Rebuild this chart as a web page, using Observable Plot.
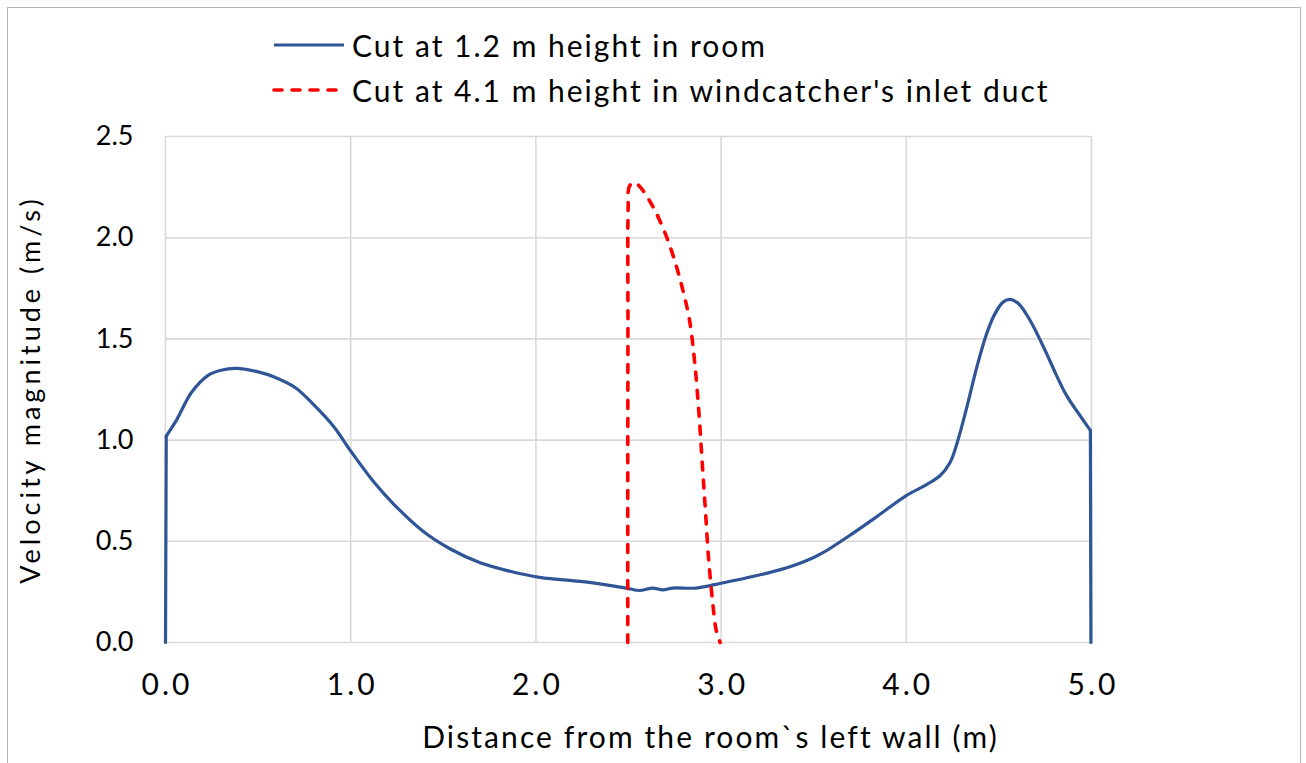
<!DOCTYPE html>
<html>
<head>
<meta charset="utf-8">
<script src="https://cdn.jsdelivr.net/npm/d3@7"></script>
<script src="https://cdn.jsdelivr.net/npm/@observablehq/plot@0.6"></script>
<style>
  html, body { margin: 0; padding: 0; background: #fff; }
  #wrap { position: relative; width: 1306px; height: 763px; overflow: hidden; background: #fff; }
  #frame { position: absolute; left: 7px; top: 7px; width: 1294px; height: 800px; border: 1px solid #b4b4b4; box-sizing: border-box; }
  #chart { position: absolute; left: 0; top: 0; }
  #legend { position: absolute; left: 272px; top: 22px; font-family: Lato, "Open Sans", sans-serif; font-size: 30px; letter-spacing: 2px; color: #000; }
  .item { display: flex; align-items: center; height: 45px; }
  .item svg { margin-right: 6px; }
</style>
</head>
<body>
<div id="wrap">
  <div id="frame"></div>
  <div id="chart"></div>
  <div id="legend"></div>
</div>
<script>
// Series 1: Cut at 1.2 m height in room
const roomX = [0.0, 0.004, 0.06, 0.14, 0.23, 0.30, 0.38, 0.50, 0.59, 0.70, 0.80, 0.91, 1.00, 1.125, 1.233, 1.394, 1.538, 1.699, 1.86, 2.02, 2.289, 2.487, 2.559, 2.631, 2.685, 2.739, 2.865, 3.00, 3.189, 3.30, 3.40, 3.50, 3.555, 3.68, 3.824, 4.00, 4.111, 4.183, 4.237, 4.273, 4.327, 4.381, 4.434, 4.479, 4.524, 4.56, 4.605, 4.668, 4.749, 4.811, 4.865, 4.937, 4.994, 4.997];
const roomY = [0.0, 1.02, 1.10, 1.235, 1.32, 1.345, 1.354, 1.337, 1.311, 1.26, 1.175, 1.065, 0.946, 0.793, 0.683, 0.547, 0.462, 0.394, 0.352, 0.322, 0.297, 0.269, 0.257, 0.269, 0.260, 0.269, 0.269, 0.293, 0.330, 0.355, 0.383, 0.420, 0.446, 0.52, 0.611, 0.726, 0.781, 0.825, 0.891, 0.982, 1.163, 1.361, 1.526, 1.625, 1.683, 1.695, 1.675, 1.592, 1.444, 1.32, 1.221, 1.122, 1.048, 0.0];
// Series 2: Cut at 4.1 m height in windcatcher's inlet duct
const ductX = [2.496, 2.496, 2.497, 2.498, 2.505, 2.532, 2.568, 2.631, 2.694, 2.748, 2.793, 2.829, 2.856, 2.879, 2.897, 2.915, 2.933, 2.955, 2.973, 2.995];
const ductY = [0.0, 0.738, 1.56, 2.14, 2.254, 2.273, 2.245, 2.155, 2.031, 1.891, 1.743, 1.595, 1.397, 1.15, 0.903, 0.656, 0.409, 0.194, 0.063, 0.0];

const xTicks = [0, 1, 2, 3, 4, 5];
const yTicks = [0, 0.5, 1.0, 1.5, 2.0, 2.5];
const seriesNames = ["Cut at 1.2 m height in room", "Cut at 4.1 m height in windcatcher's inlet duct"];
const xTitle = "Distance from the room`s left wall (m)";
const yTitle = "Velocity magnitude (m/s)";

const room = roomX.map((x, i) => ({x, y: roomY[i]}));
const duct = ductX.map((x, i) => ({x, y: ductY[i]}));

const blue = "#2F5597";
const red = "#FF0000";
const font = "Lato, 'Open Sans', sans-serif";
const blueW = 3.2, redW = 3.6, redDash = "8,10";

const plot = Plot.plot({
  width: 1306,
  height: 763,
  marginLeft: 165,
  marginRight: 215,
  marginTop: 136,
  marginBottom: 121,
  style: {fontFamily: font, background: "transparent"},
  x: {domain: [0, 5]},
  y: {domain: [0, 2.5]},
  marks: [
    Plot.gridX(xTicks, {stroke: "#d9d9d9", strokeOpacity: 1, strokeWidth: 1.6}),
    Plot.gridY(yTicks, {stroke: "#d9d9d9", strokeOpacity: 1, strokeWidth: 1.6}),
    Plot.axisX(xTicks, {tickSize: 0, tickPadding: 31, fontSize: 30, fill: "#000", dx: 1.5, tickFormat: d3.format(".1f"), label: null}),
    Plot.axisY(yTicks, {tickSize: 0, tickPadding: 32, fontSize: 27, fill: "#000", tickFormat: d3.format(".1f"), label: null}),
    // straight wall segments at both ends, smooth profile in between
    Plot.line(room.slice(0, 2), {x: "x", y: "y", stroke: blue, strokeWidth: blueW}),
    Plot.line(room.slice(1, -1), {x: "x", y: "y", stroke: blue, strokeWidth: blueW, curve: "catmull-rom", strokeLinejoin: "round"}),
    Plot.line(room.slice(-2), {x: "x", y: "y", stroke: blue, strokeWidth: blueW}),
    Plot.line(duct, {x: "x", y: "y", stroke: red, strokeWidth: redW, curve: "catmull-rom", strokeDasharray: redDash, strokeLinecap: "round"}),
    Plot.text([xTitle], {frameAnchor: "bottom", dx: 82, dy: 105, fontSize: 30, fill: "#000"}),
    Plot.text([yTitle], {frameAnchor: "left", textAnchor: "middle", dx: -134, dy: 0, rotate: -90, fontSize: 27, fill: "#000"})
  ]
});
const svg = d3.select(plot);
svg.selectAll('g[aria-label="x-axis tick label"]').style("letter-spacing", "3px");
svg.selectAll("text").each(function() {
  const t = this.textContent;
  if (t === xTitle) d3.select(this).style("letter-spacing", "2.1px");
  if (t === yTitle) d3.select(this).style("letter-spacing", "4px");
});
document.getElementById("chart").appendChild(plot);

const legend = document.getElementById("legend");
const styles = [{stroke: blue, dash: null, w: blueW}, {stroke: red, dash: redDash, w: redW}];
seriesNames.forEach((name, i) => {
  const item = document.createElement("div");
  item.className = "item";
  const s = styles[i];
  item.innerHTML = `<svg width="74" height="10"><line x1="2" y1="5" x2="72" y2="5" stroke="${s.stroke}" stroke-width="${s.w}" ${s.dash ? `stroke-dasharray="${s.dash}" stroke-linecap="round"` : ""}></line></svg><span>${name}</span>`;
  legend.appendChild(item);
});
</script>
</body>
</html>
